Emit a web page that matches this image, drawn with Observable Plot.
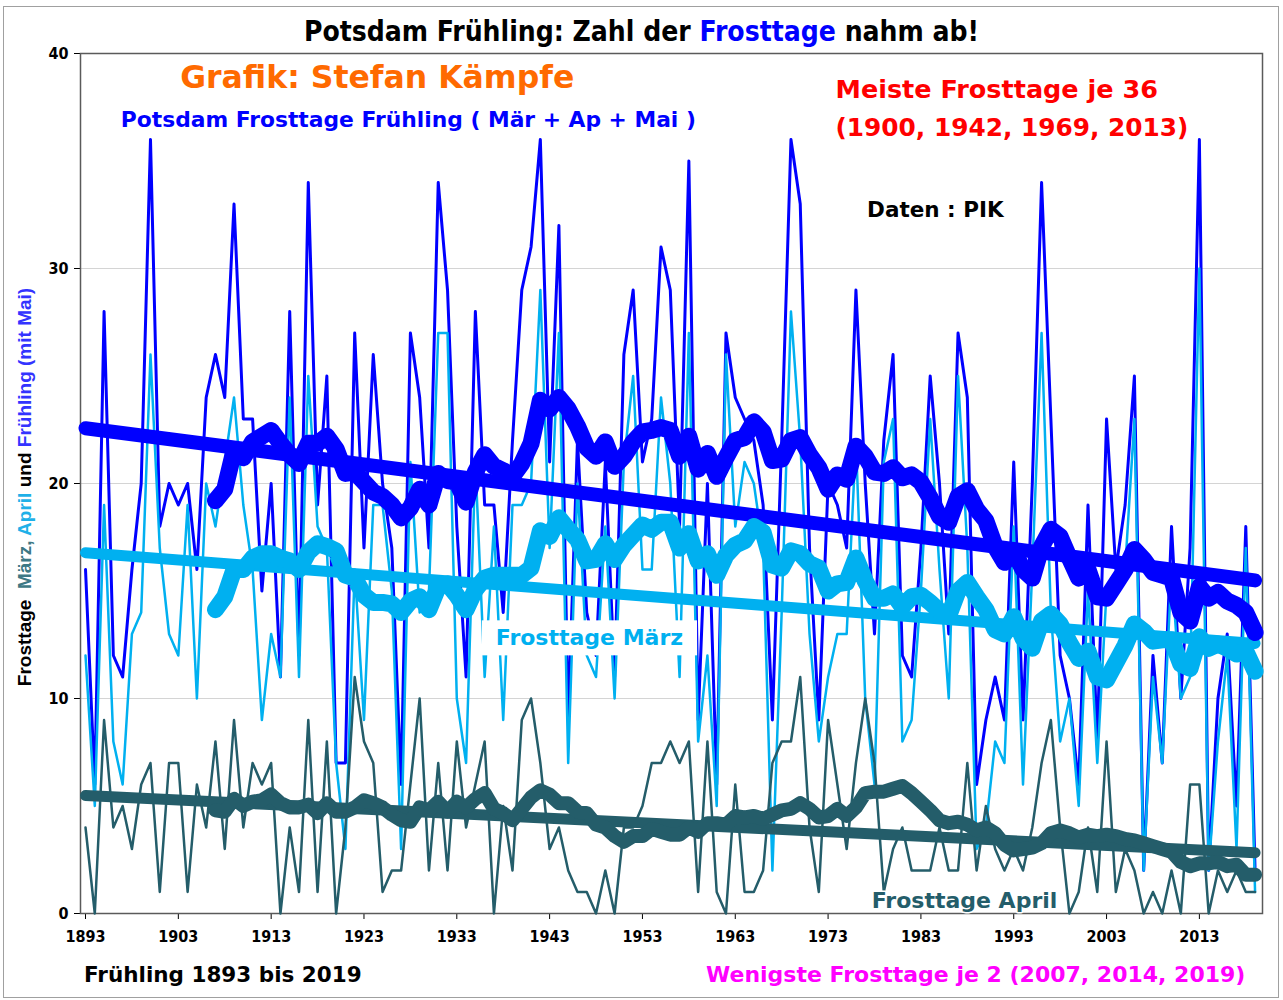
<!DOCTYPE html>
<html>
<head>
<meta charset="utf-8">
<script src="https://cdn.jsdelivr.net/npm/d3@7"></script>
<script src="https://cdn.jsdelivr.net/npm/@observablehq/plot@0.6"></script>
<style>
  body { margin: 0; background: #fff; }
  #wrap { position: relative; width: 1283px; height: 1000px; overflow: hidden; }
  #frame { position: absolute; left: 3px; top: 6px; width: 1276px; height: 992px; border: 1px solid #a0a0a0; box-sizing: border-box; }
  #title { position: absolute; top: 15px; left: 0; width: 1283px; text-align: center;
           font-family: "Liberation Sans Narrow", "DejaVu Sans Condensed", sans-serif; font-weight: bold; font-size: 28px; color: #000; }
  #chart { position: absolute; top: 30px; left: 0; }
  .cap { position: absolute; top: 962px; font-family: "DejaVu Sans", sans-serif; font-weight: bold; font-size: 21.5px; }
</style>
</head>
<body>
<div id="wrap">
  <div id="frame"></div>
  <div id="title">Potsdam Frühling: Zahl der <span style="color:#0000ff">Frosttage</span> nahm ab!</div>
  <div id="chart"></div>
  <div class="cap" style="left:84px;color:#000">Frühling 1893 bis 2019</div>
  <div class="cap" style="left:706px;color:#ff00ff;font-size:22px">Wenigste Frosttage je 2 (2007, 2014, 2019)</div>
</div>
<script>
// ---------- data ----------
const firstYear = 1893;
const lastYear = 2019;
const years = d3.range(firstYear, lastYear + 1);

// Frosttage Frühling (März + April + Mai)
const spring = [
  16, 6, 28, 12, 11, 16, 20, 36, 18, 20,   // 1893-1902
  19, 20, 16, 24, 26, 24, 33, 23, 23, 15,   // 1903-1912
  20, 11, 28, 12, 34, 19, 25, 7, 7, 27,     // 1913-1922
  17, 26, 20, 17, 6, 27, 24, 17, 34, 29,    // 1923-1932
  18, 11, 28, 19, 19, 14, 22, 29, 31, 36,   // 1933-1942
  21, 32, 9, 22, 14, 12, 21, 11, 26, 29,    // 1943-1952
  21, 23, 31, 29, 18, 35, 9, 20, 6, 27,     // 1953-1962
  24, 23, 22, 19, 9, 22, 36, 33, 17, 9,     // 1963-1972
  20, 19, 17, 29, 20, 13, 22, 26, 12, 11,   // 1973-1982
  17, 25, 20, 13, 27, 24, 6, 9, 11, 9,      // 1983-1992
  21, 9, 20, 34, 23, 12, 10, 6, 19, 8,      // 1993-2002
  23, 16, 19, 25, 2, 12, 7, 18, 10, 17,     // 2003-2012
  36, 2, 10, 13, 5, 18, 2                   // 2013-2019
];

// Frosttage März
const march = [
  12, 5, 19, 8, 6, 13, 14, 26, 17, 13,      // 1893-1902
  12, 19, 10, 20, 18, 21, 24, 19, 16, 9,    // 1903-1912
  13, 11, 24, 11, 25, 18, 17, 7, 3, 16,     // 1913-1922
  9, 19, 19, 15, 3, 21, 14, 15, 27, 27,     // 1923-1932
  10, 7, 21, 11, 18, 9, 19, 19, 20, 29,     // 1933-1942
  17, 27, 7, 20, 12, 11, 18, 10, 21, 25,    // 1943-1952
  16, 16, 24, 20, 11, 27, 8, 12, 5, 26,     // 1953-1962
  18, 21, 20, 17, 2, 14, 28, 22, 13, 8,     // 1963-1972
  11, 13, 13, 22, 10, 6, 21, 23, 8, 9,      // 1973-1982
  15, 23, 16, 10, 25, 17, 3, 4, 8, 7,       // 1983-1992
  18, 6, 16, 27, 14, 8, 10, 5, 15, 7,       // 1993-2002
  15, 15, 16, 23, 2, 11, 7, 16, 10, 11,     // 2003-2012
  30, 2, 8, 12, 3, 17, 1                    // 2013-2019
];

// Frosttage April
const april = [
  4, 0, 9, 4, 5, 3, 6, 7, 1, 7,             // 1893-1902
  7, 1, 6, 4, 8, 3, 9, 4, 7, 6,             // 1903-1912
  7, 0, 4, 1, 9, 1, 8, 0, 4, 11,            // 1913-1922
  8, 7, 1, 2, 2, 6, 10, 2, 7, 2,            // 1923-1932
  8, 4, 6, 8, 0, 5, 2, 9, 10, 7,            // 1933-1942
  3, 4, 2, 1, 1, 0, 2, 0, 4, 4,             // 1943-1952
  5, 7, 7, 8, 7, 8, 1, 8, 1, 0,             // 1953-1962
  6, 1, 1, 2, 7, 8, 8, 11, 4, 1,            // 1963-1972
  9, 6, 3, 7, 10, 7, 1, 3, 4, 2,            // 1973-1982
  2, 2, 4, 2, 2, 7, 2, 5, 3, 2,             // 1983-1992
  3, 2, 4, 7, 9, 4, 0, 1, 4, 1,             // 1993-2002
  8, 1, 3, 2, 0, 1, 0, 2, 0, 6,             // 2003-2012
  6, 0, 2, 1, 2, 1, 1                       // 2013-2019
];

const xTicks = [1893, 1903, 1913, 1923, 1933, 1943, 1953, 1963, 1973, 1983, 1993, 2003, 2013];
const yTicks = [0, 10, 20, 30, 40];
const gridValues = [10, 20, 30];
const windowSize = 15; // trailing moving average

const colors = { spring: "#0000ff", march: "#00b0f0", april: "#245d6a" };

const data = years.map((year, i) => ({ year, spring: spring[i], march: march[i], april: april[i] }));

// annotations (text, anchor in data space)
const notes = [
  { text: "Grafik: Stefan Kämpfe", x: 1903.2, y: 38.85, color: "#ff6a00", size: 31.5 },
  { text: "Potsdam Frosttage Frühling ( Mär + Ap + Mai )", x: 1896.8, y: 36.9, color: "#0000ff", size: 21.8 },
  { text: "Meiste Frosttage je 36", x: 1973.8, y: 38.3, color: "#ff0000", size: 25.5 },
  { text: "(1900, 1942, 1969, 2013)", x: 1973.8, y: 36.55, color: "#ff0000", size: 24.8 },
  { text: "Daten : PIK", x: 1977.2, y: 32.7, color: "#000000", size: 21.5 }
];
const marchNote = [{ text: "Frosttage März", x: 1937.2, y: 12.8 }];
const aprilNote = [{ text: "Frosttage April", x: 1977.7, y: 0.6 }];

const boldFont = "'DejaVu Sans', Verdana, sans-serif";

const plot = Plot.plot({
  width: 1283,
  height: 918,
  marginLeft: 80,
  marginRight: 21,
  marginTop: 23,
  marginBottom: 35,
  style: { fontFamily: "'Liberation Sans Narrow', 'DejaVu Sans Condensed', sans-serif", fontSize: "16px", fontWeight: "bold", color: "#000", background: "transparent" },
  x: { domain: [1892.46, 2019.8], ticks: xTicks, tickFormat: "d", tickSize: 6, tickPadding: 11, label: null },
  y: { domain: [0, 40], ticks: yTicks, tickSize: 6, tickPadding: 6, label: null },
  marks: [
    Plot.gridY(gridValues, { stroke: "#d4d4d4", strokeOpacity: 1 }),
    Plot.frame({ stroke: "#5a5a5a", strokeWidth: 1.5 }),
    Plot.lineY(data, { x: "year", y: "spring", stroke: colors.spring, strokeWidth: 3, strokeLinejoin: "round" }),
    Plot.lineY(data, { x: "year", y: "march", stroke: colors.march, strokeWidth: 2.5, strokeLinejoin: "round" }),
    Plot.lineY(data, { x: "year", y: "april", stroke: colors.april, strokeWidth: 2.5, strokeLinejoin: "round" }),
    Plot.text(marchNote, { x: "x", y: "y", text: "text", textAnchor: "start", fill: colors.march, fontSize: 22, fontWeight: "bold", fontFamily: boldFont }),
    // linear trends
    Plot.linearRegressionY(data, { x: "year", y: "spring", stroke: colors.spring, strokeWidth: 14, ci: 0 }),
    Plot.linearRegressionY(data, { x: "year", y: "march", stroke: colors.march, strokeWidth: 11, ci: 0 }),
    Plot.linearRegressionY(data, { x: "year", y: "april", stroke: colors.april, strokeWidth: 11, ci: 0 }),
    // moving averages
    Plot.lineY(data, Plot.windowY({ k: windowSize, anchor: "end", strict: true }, { x: "year", y: "spring", stroke: colors.spring, strokeWidth: 17, strokeLinecap: "round", strokeLinejoin: "round" })),
    Plot.lineY(data, Plot.windowY({ k: windowSize, anchor: "end", strict: true }, { x: "year", y: "march", stroke: colors.march, strokeWidth: 17, strokeLinecap: "round", strokeLinejoin: "round" })),
    Plot.lineY(data, Plot.windowY({ k: windowSize, anchor: "end", strict: true }, { x: "year", y: "april", stroke: colors.april, strokeWidth: 14, strokeLinecap: "round", strokeLinejoin: "round" })),
    Plot.text(aprilNote, { x: "x", y: "y", text: "text", textAnchor: "start", fill: colors.april, stroke: "white", strokeWidth: 3, fontSize: 22, fontWeight: "bold", fontFamily: boldFont }),
    Plot.text(notes, { x: "x", y: "y", text: "text", textAnchor: "start", fill: d => d.color, fontSize: d => d.size, fontWeight: "bold", fontFamily: boldFont })
  ]
});

document.getElementById("chart").appendChild(plot);

const svg = d3.select(plot);

// white box behind the "Frosttage März" label
const marchText = svg.selectAll("text").filter(function () { return this.textContent === "Frosttage März"; }).node();
if (marchText) {
  const bb = marchText.getBBox();
  d3.select(marchText.parentNode).insert("rect", () => marchText)
    .attr("transform", marchText.getAttribute("transform"))
    .attr("x", bb.x - 14).attr("y", bb.y - 5)
    .attr("width", bb.width + 28).attr("height", bb.height + 10)
    .attr("fill", "#fff").attr("stroke", "none");
}

// rotated multi-coloured y axis title
const yTitle = svg.append("text")
  .attr("transform", "translate(31,457) rotate(-90)")
  .attr("text-anchor", "middle")
  .style("font", "bold 19px 'Liberation Sans', Arial, sans-serif");
yTitle.append("tspan").attr("fill", "#000").text("Frosttage  ");
yTitle.append("tspan").attr("fill", "#3d7884").text("März, ");
yTitle.append("tspan").attr("fill", "#1fb0e8").text("April");
yTitle.append("tspan").attr("fill", "#000").text(" und ");
yTitle.append("tspan").attr("fill", "#3333ff").text("Frühling (mit Mai)");
</script>
</body>
</html>
